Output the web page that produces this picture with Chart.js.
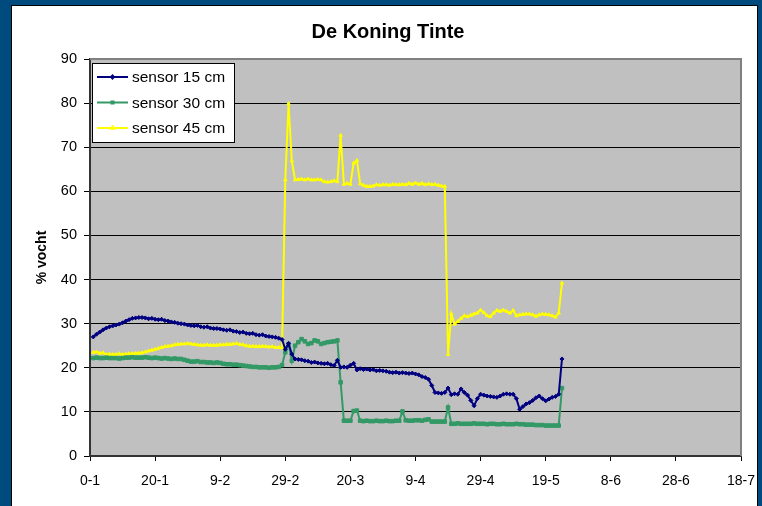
<!DOCTYPE html>
<html>
<head>
<meta charset="utf-8">
<script src="https://cdn.jsdelivr.net/npm/chart.js@4/dist/chart.umd.min.js"></script>
<style>
  html, body { margin: 0; padding: 0; }
  body { background: #004b7d; width: 762px; height: 506px; overflow: hidden; position: relative; }
  #frame { position: absolute; left: 11px; top: 5px; width: 745px; height: 501px;
           border: 1px solid #000; border-bottom: 0; background: #fff; }
  canvas { display: block; }
</style>
</head>
<body>
<div id="frame"><canvas id="vochtChart" width="745" height="500"></canvas></div>
<script>
// days since 0-1 (one reading per day)
const days = Array.from({ length: 145 }, (_, i) => i + 1);

const xTickLabels = ['0-1', '20-1', '9-2', '29-2', '20-3', '9-4', '29-4', '19-5', '8-6', '28-6', '18-7'];

const sensor15 = [
    27.0, 27.6, 28.1, 28.6, 29.0, 29.3, 29.5, 29.7, 29.9, 30.2,
    30.6, 30.9, 31.2, 31.3, 31.4, 31.4, 31.3, 31.1, 31.2, 31.0,
    30.9, 31.0, 30.7, 30.6, 30.4, 30.3, 30.1, 30.0, 29.9, 29.7,
    29.6, 29.5, 29.6, 29.3, 29.2, 29.3, 29.0, 28.9, 28.9, 28.8,
    28.6, 28.5, 28.6, 28.3, 28.2, 28.0, 28.1, 27.8, 27.7, 27.8,
    27.5, 27.4, 27.5, 27.2, 27.1, 27.0, 26.9, 26.7, 26.4, 24.2,
    25.5, 23.1, 22.0, 21.9, 21.8, 21.6, 21.5, 21.2, 21.3, 21.1,
    21.0, 20.9, 21.0, 20.7, 20.5, 21.7, 20.1, 20.2, 20.1, 20.6,
    21.0, 19.5, 19.8, 19.6, 19.7, 19.5, 19.6, 19.3, 19.4, 19.3,
    19.2, 19.0, 18.9, 19.0, 18.8, 18.9, 18.8, 18.7, 18.8, 18.6,
    18.4, 18.0, 17.8, 17.4, 16.0, 14.4, 14.3, 14.2, 14.4, 15.4,
    13.9, 14.1, 14.0, 15.2, 14.4, 13.8, 12.6, 11.4, 13.0, 14.0,
    13.8, 13.6, 13.5, 13.4, 13.3, 13.6, 14.0, 14.1, 14.0, 14.0,
    13.0, 10.6, 11.2, 11.8, 12.1, 12.6, 13.2, 13.6, 13.0, 12.5,
    12.9, 13.3, 13.5, 14.0, 22.0
];

const sensor30 = [
    22.2, 22.3, 22.2, 22.2, 22.3, 22.2, 22.2, 22.2, 22.1, 22.2,
    22.3, 22.3, 22.4, 22.3, 22.3, 22.3, 22.4, 22.3, 22.2, 22.3,
    22.2, 22.1, 22.2, 22.1, 22.0, 22.1, 22.0, 22.0, 21.8, 21.6,
    21.4, 21.4, 21.5, 21.3, 21.3, 21.2, 21.2, 21.1, 21.2, 21.1,
    20.9, 20.8, 20.8, 20.7, 20.7, 20.6, 20.5, 20.4, 20.3, 20.2,
    20.2, 20.1, 20.1, 20.1, 20.0, 20.1, 20.1, 20.2, 20.6, 23.5,
    25.4, 21.6, 25.0, 25.8, 26.5, 26.0, 25.4, 25.6, 26.2, 26.0,
    25.4, 25.6, 25.8, 25.9, 26.0, 26.2, 16.7, 8.0, 8.0, 8.0,
    10.2, 10.3, 8.0, 7.9, 8.0, 7.9, 7.9, 8.0, 7.9, 7.9,
    8.0, 7.9, 7.9, 8.0, 8.0, 10.1, 8.1, 8.0, 8.0, 8.1,
    8.1, 8.0, 8.2, 8.3, 7.8, 7.8, 7.8, 7.8, 7.8, 11.0,
    7.3, 7.3, 7.4, 7.3, 7.3, 7.3, 7.3, 7.4, 7.3, 7.3,
    7.3, 7.2, 7.3, 7.3, 7.2, 7.2, 7.3, 7.2, 7.2, 7.2,
    7.3, 7.2, 7.2, 7.1, 7.1, 7.1, 7.0, 7.0, 7.0, 6.9,
    6.9, 6.9, 6.9, 6.9, 15.4
];

const sensor45 = [
    23.5, 23.6, 23.3, 23.4, 23.0, 23.1, 23.0, 23.0, 23.2, 23.0,
    23.1, 23.2, 23.2, 23.3, 23.3, 23.4, 23.6, 23.8, 24.0, 24.2,
    24.4, 24.6, 24.8, 24.9, 25.0, 25.2, 25.3, 25.4, 25.4, 25.5,
    25.4, 25.3, 25.2, 25.1, 25.1, 25.2, 25.1, 25.1, 25.1, 25.2,
    25.2, 25.3, 25.3, 25.4, 25.5, 25.3, 25.2, 25.0, 24.9, 24.9,
    24.8, 24.8, 24.9, 24.8, 24.7, 24.8, 24.6, 24.6, 24.5, 62.6,
    79.9, 66.9, 62.6, 62.7, 62.8, 62.6, 62.8, 62.6, 62.6, 62.7,
    62.6, 62.2, 62.1, 62.2, 62.4, 62.2, 72.7, 61.6, 61.8, 61.6,
    66.4, 67.0, 61.7, 61.4, 61.1, 61.1, 61.2, 61.5, 61.4, 61.5,
    61.5, 61.4, 61.6, 61.5, 61.5, 61.6, 61.5, 61.8, 61.6, 61.9,
    61.6, 61.8, 61.5, 61.7, 61.5, 61.6, 61.4, 61.2, 61.1, 23.0,
    32.2, 29.9, 30.5, 31.2, 31.8, 31.6, 31.9, 32.2, 32.4, 33.1,
    32.5, 31.8, 31.6, 32.4, 33.0, 32.8, 33.1, 32.8, 32.4, 33.0,
    31.8, 32.0, 32.1, 32.2, 32.2, 32.0, 31.7, 32.0, 32.2, 32.1,
    32.0, 31.8, 31.5, 32.4, 39.2
];

const chartTitle = 'De Koning Tinte';
const FONT = "'Liberation Sans', Arial, sans-serif";

function toPoints(values) {
    return values.map((v, i) => ({ x: days[i], y: v }));
}

// grey plot area + border on top/right, and the title
const plotArea = {
    id: 'plotArea',
    beforeDraw(chart) {
        const { ctx, chartArea: a } = chart;
        ctx.save();
        ctx.fillStyle = '#c0c0c0';
        ctx.fillRect(a.left, a.top, a.right - a.left, a.bottom - a.top);
        ctx.fillStyle = '#000';
        ctx.font = 'bold 20px ' + FONT;
        ctx.textAlign = 'center';
        ctx.textBaseline = 'middle';
        ctx.fillText(chartTitle, 376, 26);
        ctx.restore();
    },
    afterDatasetsDraw(chart) {
        const { ctx, chartArea: a } = chart;
        ctx.save();
        ctx.strokeStyle = '#808080';
        ctx.lineWidth = 2;
        ctx.beginPath();
        ctx.moveTo(a.left, a.top);
        ctx.lineTo(a.right, a.top);
        ctx.lineTo(a.right, a.bottom);
        ctx.stroke();
        ctx.restore();
    }
};

// excel style boxed legend inside the plot
const boxLegend = {
    id: 'boxLegend',
    afterDraw(chart) {
        const { ctx } = chart;
        const x = 80, y = 57, w = 142, h = 79;
        ctx.save();
        ctx.fillStyle = '#fff';
        ctx.fillRect(x, y, w, h);
        ctx.strokeStyle = '#000';
        ctx.lineWidth = 1;
        ctx.strokeRect(x + 0.5, y + 0.5, w, h);
        chart.data.datasets.forEach((ds, i) => {
            const ry = y + 14 + i * 25.5;
            ctx.strokeStyle = ds.borderColor;
            ctx.lineWidth = 2;
            ctx.beginPath();
            ctx.moveTo(x + 5, ry);
            ctx.lineTo(x + 36, ry);
            ctx.stroke();
            if (Chart.helpers && Chart.helpers.drawPoint) {
                Chart.helpers.drawPoint(ctx, {
                    pointStyle: ds.pointStyle, radius: 1.5, rotation: 0,
                    borderWidth: 1
                }, x + 20.5, ry);
                ctx.fillStyle = ds.borderColor;
                ctx.fill();
            }
            ctx.fillStyle = '#000';
            ctx.font = '15.5px ' + FONT;
            ctx.textBaseline = 'middle';
            ctx.fillText(ds.label, x + 40, ry + 1);
        });
        ctx.restore();
    }
};

new Chart(document.getElementById('vochtChart'), {
    type: 'line',
    data: {
        datasets: [{
            label: 'sensor 15 cm',
            data: toPoints(sensor15),
            borderColor: '#000080',
            backgroundColor: '#000080',
            borderWidth: 2,
            pointStyle: 'rectRot',
            pointRadius: 2,
            pointBorderWidth: 1
        }, {
            label: 'sensor 30 cm',
            data: toPoints(sensor30),
            borderColor: '#339966',
            backgroundColor: '#339966',
            borderWidth: 2,
            pointStyle: 'rect',
            pointRadius: 2.5,
            pointBorderWidth: 1
        }, {
            label: 'sensor 45 cm',
            data: toPoints(sensor45),
            borderColor: '#ffff00',
            backgroundColor: '#ffff00',
            borderWidth: 2,
            pointStyle: 'triangle',
            pointRadius: 2,
            pointBorderWidth: 1
        }]
    },
    options: {
        responsive: false,
        animation: false,
        layout: { padding: { left: 0, right: 16, top: 53, bottom: 0 } },
        plugins: {
            legend: { display: false },
            tooltip: { enabled: false },
            title: { display: false }
        },
        scales: {
            x: {
                type: 'linear',
                min: 0,
                max: 200,
                afterFit(scale) {
                    scale.height = 50;
                    scale.paddingLeft = 0;
                    scale.paddingRight = 0;
                },
                afterBuildTicks(scale) {
                    scale.ticks = xTickLabels.map((_, i) => ({ value: i * 20 }));
                },
                ticks: {
                    stepSize: 20,
                    color: '#000',
                    padding: 12,
                    maxRotation: 0,
                    autoSkip: false,
                    font: { family: FONT, size: 14 },
                    callback: (value, index) => xTickLabels[index]
                },
                grid: {
                    drawOnChartArea: false,
                    drawTicks: true,
                    tickLength: 5,
                    tickColor: '#000'
                },
                border: { color: '#333', width: 2 }
            },
            y: {
                min: 0,
                max: 90,
                afterFit(scale) { scale.width = 78; },
                ticks: {
                    stepSize: 10,
                    color: '#000',
                    padding: 7,
                    font: { family: FONT, size: 14.5 }
                },
                grid: {
                    color: '#000',
                    lineWidth: 1,
                    tickLength: 6,
                    tickColor: '#000'
                },
                border: { color: '#333', width: 2 },
                title: {
                    display: true,
                    text: '% vocht',
                    color: '#000',
                    font: { family: FONT, size: 14, weight: 'bold' },
                    padding: { top: 21.6, bottom: 0 }
                }
            }
        }
    },
    plugins: [plotArea, boxLegend]
});
</script>
</body>
</html>
